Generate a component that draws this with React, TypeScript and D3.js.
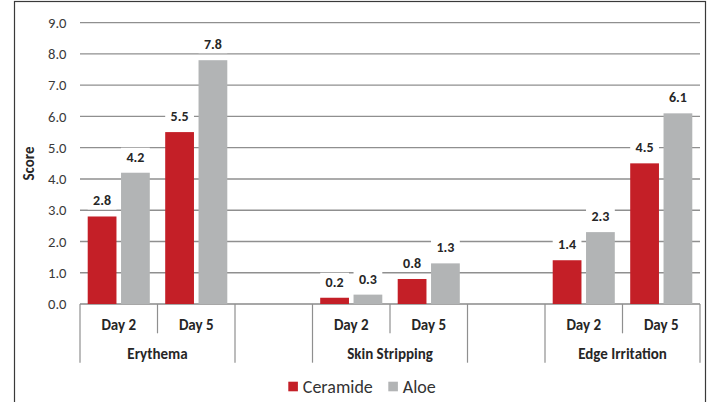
import React from "react";
import * as d3 from "d3";

const categories = ["Erythema", "Skin Stripping", "Edge Irritation"];
const days = ["Day 2", "Day 5"];
const seriesNames = ["Ceramide", "Aloe"];
// values[category][day] per series
const ceramide = [
  [2.8, 5.5],
  [0.2, 0.8],
  [1.4, 4.5],
];
const aloe = [
  [4.2, 7.8],
  [0.3, 1.3],
  [2.3, 6.1],
];
const yTicks = [0, 1, 2, 3, 4, 5, 6, 7, 8, 9];
const colors = ["#C41F27", "#B2B4B5"];

const W = 712;
const H = 402;
const FONT = "Carlito, Calibri, Lato, sans-serif";

type Slot = { key: string; cat: number; day: number | null };

export default function App() {
  const slots: Slot[] = [];
  categories.forEach((c, ci) => {
    days.forEach((d, di) => slots.push({ key: `${ci}-${di}`, cat: ci, day: di }));
    if (ci < categories.length - 1) slots.push({ key: `gap-${ci}`, cat: -1, day: null });
  });

  const x = d3
    .scaleBand<string>()
    .domain(slots.map((s) => s.key))
    .range([80, 700])
    .padding(0);
  const slotW = x.bandwidth();
  const inner = d3
    .scaleBand<string>()
    .domain(seriesNames)
    .range([slotW * 0.0994, slotW * 0.9006])
    .paddingInner(0.137)
    .paddingOuter(0);
  const y = d3.scaleLinear().domain([0, 9]).range([304, 22.7]);
  const fmt = d3.format(".1f");
  const seriesData = [ceramide, aloe];

  const bars: { x: number; y: number; w: number; h: number; v: number; s: number }[] = [];
  slots.forEach((sl) => {
    if (sl.day === null) return;
    seriesNames.forEach((sn, si) => {
      const v = seriesData[si][sl.cat][sl.day as number];
      const bx = (x(sl.key) as number) + (inner(sn) as number);
      bars.push({ x: bx, y: y(v), w: inner.bandwidth(), h: y(0) - y(v), v, s: si });
    });
  });

  const boundaries: { x: number; major: boolean }[] = [];
  slots.forEach((sl, i) => {
    const x0 = x(sl.key) as number;
    const major = i === 0 || sl.day === 0 || sl.day === null || slots[i - 1].day === null;
    boundaries.push({ x: x0, major });
  });
  boundaries.push({ x: 700, major: true });

  return (
    <svg
      width={W}
      height={H}
      style={{ position: "absolute", left: 0, top: 0, background: "#fff" }}
      fontFamily={FONT}
    >
      <rect x={14.5} y={1.5} width={691} height={430} fill="#fff" stroke="#3a3a3a" strokeWidth={1.2} />
      {yTicks.map((t) => (
        <line key={t} x1={80} x2={700} y1={y(t)} y2={y(t)} stroke={t === 0 ? "#8a8a8a" : "#8f8f8f"} strokeWidth={1.3} />
      ))}
      {yTicks.map((t) => (
        <text key={"l" + t} x={66.5} y={y(t)} dy="0.35em" textAnchor="end" fontSize={14.6} fill="#3a3a3a">
          {fmt(t)}
        </text>
      ))}
      <text
        transform="translate(28.5,163.5) rotate(-90)"
        textAnchor="middle"
        dy="0.35em"
        fontSize={15}
        fontWeight="bold"
        fill="#262626"
      >
        Score
      </text>
      {bars.map((b, i) => (
        <rect key={"bg" + i} x={b.x} y={b.y - 16 - 9} width={b.w} height={18} fill="#fff" />
      ))}
      {bars.map((b, i) => (
        <rect key={"b" + i} x={b.x} y={b.y} width={b.w} height={b.h} fill={colors[b.s]} />
      ))}
      {bars.map((b, i) => (
        <text
          key={"v" + i}
          x={b.x + b.w / 2}
          y={b.y - 16}
          dy="0.35em"
          textAnchor="middle"
          fontSize={14}
          fontWeight="bold"
          fill="#262626"
        >
          {fmt(b.v)}
        </text>
      ))}
      {boundaries.map((b, i) => (
        <line key={"t" + i} x1={b.x} x2={b.x} y1={304} y2={b.major ? 362.7 : 333.3} stroke="#8f8f8f" strokeWidth={1.2} />
      ))}
      {slots.map((sl) =>
        sl.day === null ? null : (
          <text
            key={"d" + sl.key}
            x={(x(sl.key) as number) + slotW / 2}
            y={324.5}
            dy="0.35em"
            textAnchor="middle"
            fontSize={15}
            fontWeight="bold"
            fill="#262626"
          >
            {days[sl.day]}
          </text>
        )
      )}
      {categories.map((c, ci) => (
        <text
          key={c}
          x={(x(`${ci}-0`) as number) + slotW}
          y={353.5}
          dy="0.35em"
          textAnchor="middle"
          fontSize={15}
          fontWeight="bold"
          fill="#262626"
        >
          {c}
        </text>
      ))}
      {seriesNames.map((s, i) => {
        const lx = i === 0 ? 288.3 : 388.3;
        return (
          <g key={s}>
            <rect x={lx} y={381.7} width={9.6} height={9.6} fill={colors[i]} />
            <text x={lx + 14.5} y={386.5} dy="0.35em" fontSize={18} fill="#333">
              {s}
            </text>
          </g>
        );
      })}
    </svg>
  );
}
